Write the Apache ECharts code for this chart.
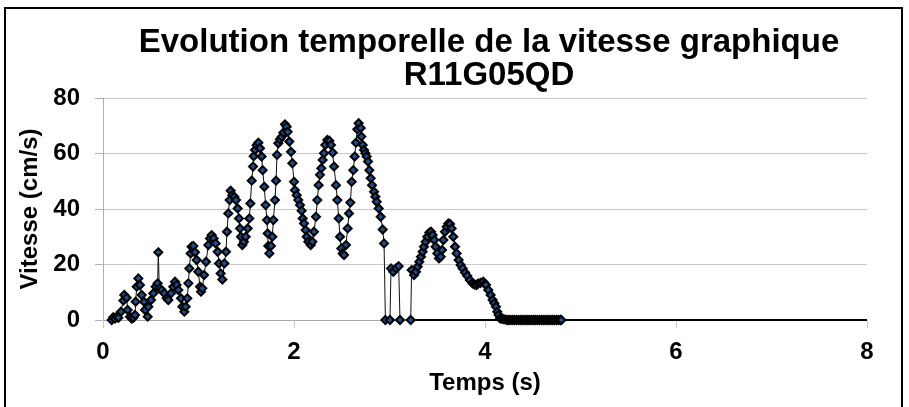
<!DOCTYPE html>
<html>
<head>
<meta charset="utf-8">
<script src="https://cdn.jsdelivr.net/npm/echarts@6/dist/echarts.min.js"></script>
<style>
html,body{margin:0;padding:0;background:#fff;}
#chart{width:909px;height:407px;}
</style>
</head>
<body>
<div id="chart"></div>
<script>
var titleLines = ["Evolution temporelle de la vitesse graphique", "R11G05QD"];
var xAxisName = "Temps (s)";
var yAxisName = "Vitesse (cm/s)";
var xTicks = [0, 2, 4, 6, 8];
var yTicks = [0, 20, 40, 60, 80];

var times = [
0.091,0.108,0.126,0.143,0.161,0.188,0.213,0.223,0.248,0.258,0.283,0.300,0.318,0.335,0.342,0.353,0.370,0.387,0.405,0.429,
0.440,0.468,0.475,0.503,0.527,0.551,0.572,0.579,0.590,0.614,0.642,0.667,0.684,0.712,0.736,0.754,0.771,0.789,0.817,0.831,
0.852,0.866,0.883,0.894,0.904,0.918,0.928,0.946,0.963,0.981,0.998,1.016,1.026,1.040,1.058,1.079,1.103,1.120,1.138,1.159,
1.180,1.201,1.215,1.232,1.250,1.271,1.288,1.298,1.312,1.326,1.337,1.354,1.375,1.393,1.410,1.424,1.435,1.445,1.459,1.476,
1.494,1.515,1.532,1.543,1.557,1.571,1.578,1.592,1.609,1.627,1.644,1.661,1.672,1.689,1.703,1.717,1.724,1.731,1.742,1.759,
1.773,1.784,1.801,1.812,1.822,1.836,1.853,1.871,1.888,1.906,1.923,1.934,1.951,1.969,1.983,
2.000,2.010,2.028,2.045,2.063,2.080,2.091,2.105,2.122,2.133,2.150,2.175,2.192,2.209,2.230,2.244,2.258,2.272,2.286,2.300,
2.314,2.328,2.349,2.370,2.387,2.405,2.419,2.440,2.454,2.468,2.482,2.496,2.510,2.524,2.544,2.562,2.576,2.590,2.604,2.621,
2.635,2.649,2.663,2.677,2.698,2.705,2.719,2.733,2.747,2.761,2.775,2.789,2.803,2.817,2.838,2.852,2.866,2.887,2.908,2.929,
2.943,2.957,3.005,3.016,3.040,3.068,3.096,3.110,3.222,3.232,3.257,3.277,3.295,3.312,3.330,3.347,3.361,3.379,3.396,3.417,
3.435,3.452,3.469,3.483,3.501,3.518,3.536,3.550,3.564,3.581,3.599,3.616,3.634,3.651,3.668,3.686,3.703,3.724,3.745,3.766,
3.791,3.815,3.841,3.869,3.890,3.911,3.930,3.955,3.982,4.000,4.010,4.035,4.059,4.080,4.098,4.115,4.129,4.143,4.157,4.170,
4.190,4.210,4.230,4.250,4.270,4.290,4.310,4.330,4.350,4.370,4.390,4.410,4.430,4.450,4.470,4.490,4.510,4.530,4.550,4.570,
4.590,4.610,4.630,4.650,4.670,4.690,4.710,4.730,4.750,4.770,4.790,4.800
];

var speeds = [
0,1,0.5,1.2,0.8,3,7,9,8,3.6,1.2,0.5,0.8,1.8,6.6,12,15,12.6,9,6.6,
3.6,1.2,4.8,7.2,9.6,12,13.2,24.4,11.4,10.8,9.6,7.8,7.2,9.6,12,13.8,12.6,10.8,7.8,4.8,
3,4.8,7.8,13.2,18.6,24,26.4,26.7,24.4,21.6,17.4,12,10.2,11.4,16.2,21,27,29.4,30.6,29.4,
27.6,24.6,20.4,16.8,14.6,20.4,24.6,31.8,38.4,43.2,46.6,45,44.4,43.2,40.2,36.6,33,30,27,28.2,
30,33,36.6,42,50.2,55.3,59,61.3,63,63.9,61.9,58.9,54,48,41.4,36,31.2,26.7,24,26.7,
30,36,43.2,50.2,59.5,63.7,65.1,66,67.5,70.5,69.6,67.8,64.3,60.6,56.5,
49.8,46.8,45,43.2,41.4,39.4,36.6,34.8,32.4,30,28.2,27,28.2,31.8,37.2,43.2,48.6,52.3,54.7,57.7,
60.1,63.1,64.9,64.6,63.1,60.3,55.3,48.6,43.2,36.6,30,25.8,24,23.4,27,33,38.4,42.3,49.8,54,
58.9,63.9,68.7,70.9,69.2,66.1,63.1,61.3,60.1,58.9,57.1,54,51.1,48.6,46.2,44.4,42.6,40.2,37.2,32.6,
27.6,0,0,18.6,17.4,18.6,19.4,0,0,18,16.2,17.4,19.2,21,22.8,24.6,26.4,28.2,30,31.5,
31.8,30.6,28.8,26.4,24,22.2,22.8,25.2,28.8,31.8,33.6,34.8,34.6,33,30,26.4,24,21.6,19.8,18.6,
17.1,15.9,14.4,13.2,12.8,12.6,13.2,13.4,13.8,13,12.6,10.8,9,7.2,6,4.8,3,1.8,0.6,0.5,
0.3,0.2,0,0,0,0,0,0,0,0,0,0,0,0,0,0,0,0,0,0,
0,0,0,0,0,0,0,0,0,0,0,0
];

var baselineStart = 3.222;
var baselineEnd = 8;

var seriesData = times.map(function (t, i) { return [t, speeds[i]]; });

var chart = echarts.init(document.getElementById('chart'), null, {renderer: 'canvas'});
var FONT = '"Liberation Sans", Arial, sans-serif';
chart.setOption({
  animation: false,
  backgroundColor: '#ffffff',
  grid: {left: 103, right: 42, top: 98, bottom: 87, containLabel: false},
  graphic: [
    {type: 'rect', shape: {x: 5, y: 8, width: 897, height: 420}, style: {fill: 'none', stroke: '#000', lineWidth: 2}, silent: true},
    {type: 'text', x: 489, y: 43, style: {text: titleLines[0], font: 'bold 33px ' + FONT, fill: '#000', textAlign: 'center', textVerticalAlign: 'middle'}},
    {type: 'text', x: 489, y: 76, style: {text: titleLines[1], font: 'bold 33px ' + FONT, fill: '#000', textAlign: 'center', textVerticalAlign: 'middle'}}
  ],
  xAxis: {
    type: 'value', min: xTicks[0], max: xTicks[xTicks.length - 1], interval: 2,
    name: xAxisName, nameLocation: 'middle', nameGap: 51,
    nameTextStyle: {fontFamily: FONT, fontWeight: 'bold', fontSize: 24, color: '#000'},
    axisLine: {show: true, lineStyle: {color: '#a6a6a6', width: 1}},
    axisTick: {show: true, length: 8, lineStyle: {color: '#c8c8c8'}},
    axisLabel: {fontFamily: FONT, fontWeight: 'bold', fontSize: 24, color: '#000', margin: 20},
    splitLine: {show: false}
  },
  yAxis: {
    type: 'value', min: yTicks[0], max: yTicks[yTicks.length - 1], interval: 20,
    name: yAxisName, nameLocation: 'middle', nameGap: 61, nameRotate: 90,
    nameTextStyle: {fontFamily: FONT, fontWeight: 'bold', fontSize: 24, color: '#000'},
    axisLine: {show: true, lineStyle: {color: '#b0b0b0', width: 1}},
    axisTick: {show: true, length: 8, lineStyle: {color: '#b0b0b0'}},
    axisLabel: {fontFamily: FONT, fontWeight: 'bold', fontSize: 24, color: '#000', margin: 23},
    splitLine: {show: true, lineStyle: {color: '#c8c8c8', width: 1}}
  },
  series: [
    {
      type: 'line', data: [[baselineStart, 0], [baselineEnd, 0]],
      showSymbol: false, symbol: 'none',
      lineStyle: {color: '#000', width: 2}, z: 1
    },
    {
      type: 'line', data: seriesData,
      symbol: 'diamond', symbolSize: 8, showAllSymbol: true,
      lineStyle: {color: '#111', width: 1},
      itemStyle: {color: '#1f4e8c', borderColor: '#000', borderWidth: 2},
      z: 2
    }
  ]
});
</script>
</body>
</html>
